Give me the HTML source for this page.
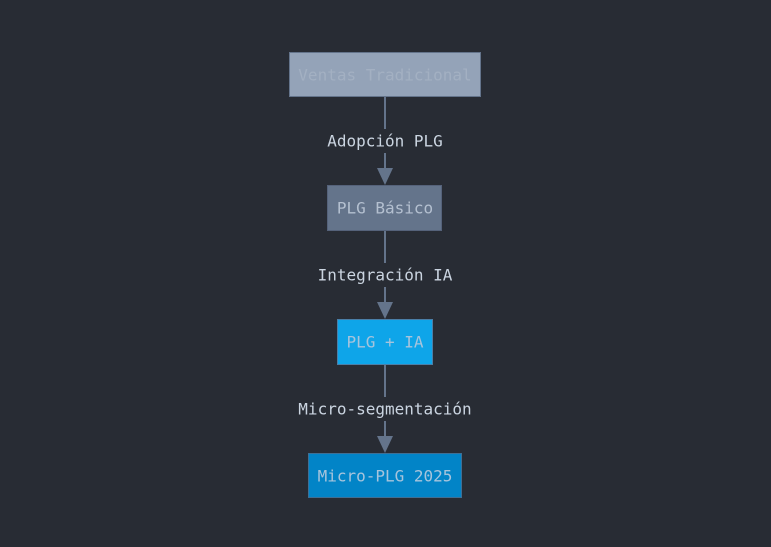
<!DOCTYPE html>
<html><head><style>
html,body{margin:0;padding:0;background:#282c34;}
svg{display:block}
text{font-family:"DejaVu Sans Mono","Liberation Mono",monospace;font-size:16px;text-anchor:middle;dominant-baseline:central}
</style></head><body>
<svg width="771" height="547" viewBox="0 0 771 547">
<rect width="771" height="547" fill="#282c34"/>
<g stroke="#64748b" stroke-width="2">
<line x1="385" y1="97" x2="385" y2="170"/>
<line x1="385" y1="231" x2="385" y2="304"/>
<line x1="385" y1="365" x2="385" y2="438"/>
</g>
<g fill="#64748b">
<polygon points="377,168 393,168 385,185"/>
<polygon points="377,302 393,302 385,319"/>
<polygon points="377,436 393,436 385,453"/>
</g>
<rect x="315" y="129" width="140" height="24" fill="#282c34"/>
<rect x="305" y="263" width="160" height="24" fill="#282c34"/>
<rect x="288" y="397" width="194" height="24" fill="#282c34"/>
<text x="385" y="141" fill="#cbd5e1">Adopción PLG</text>
<text x="385" y="275" fill="#cbd5e1">Integración IA</text>
<text x="385" y="409" fill="#cbd5e1">Micro-segmentación</text>
<rect x="289.5" y="52.5" width="191" height="44" fill="#94a3b8" stroke="#64748b"/>
<text x="385" y="75" fill="#a3b0c2">Ventas Tradicional</text>
<rect x="327.5" y="185.5" width="114" height="45" fill="#64748b" stroke="#55627a"/>
<text x="385" y="208" fill="#b4c0d0">PLG Básico</text>
<rect x="337.5" y="319.5" width="95" height="45" fill="#0ea5e9" stroke="#4b7fa8"/>
<text x="385" y="342" fill="#a7c4dc">PLG + IA</text>
<rect x="308.5" y="453.5" width="153" height="44" fill="#0284c7" stroke="#3f6f94"/>
<text x="385" y="476" fill="#a7c4dc">Micro-PLG 2025</text>
</svg>
</body></html>
